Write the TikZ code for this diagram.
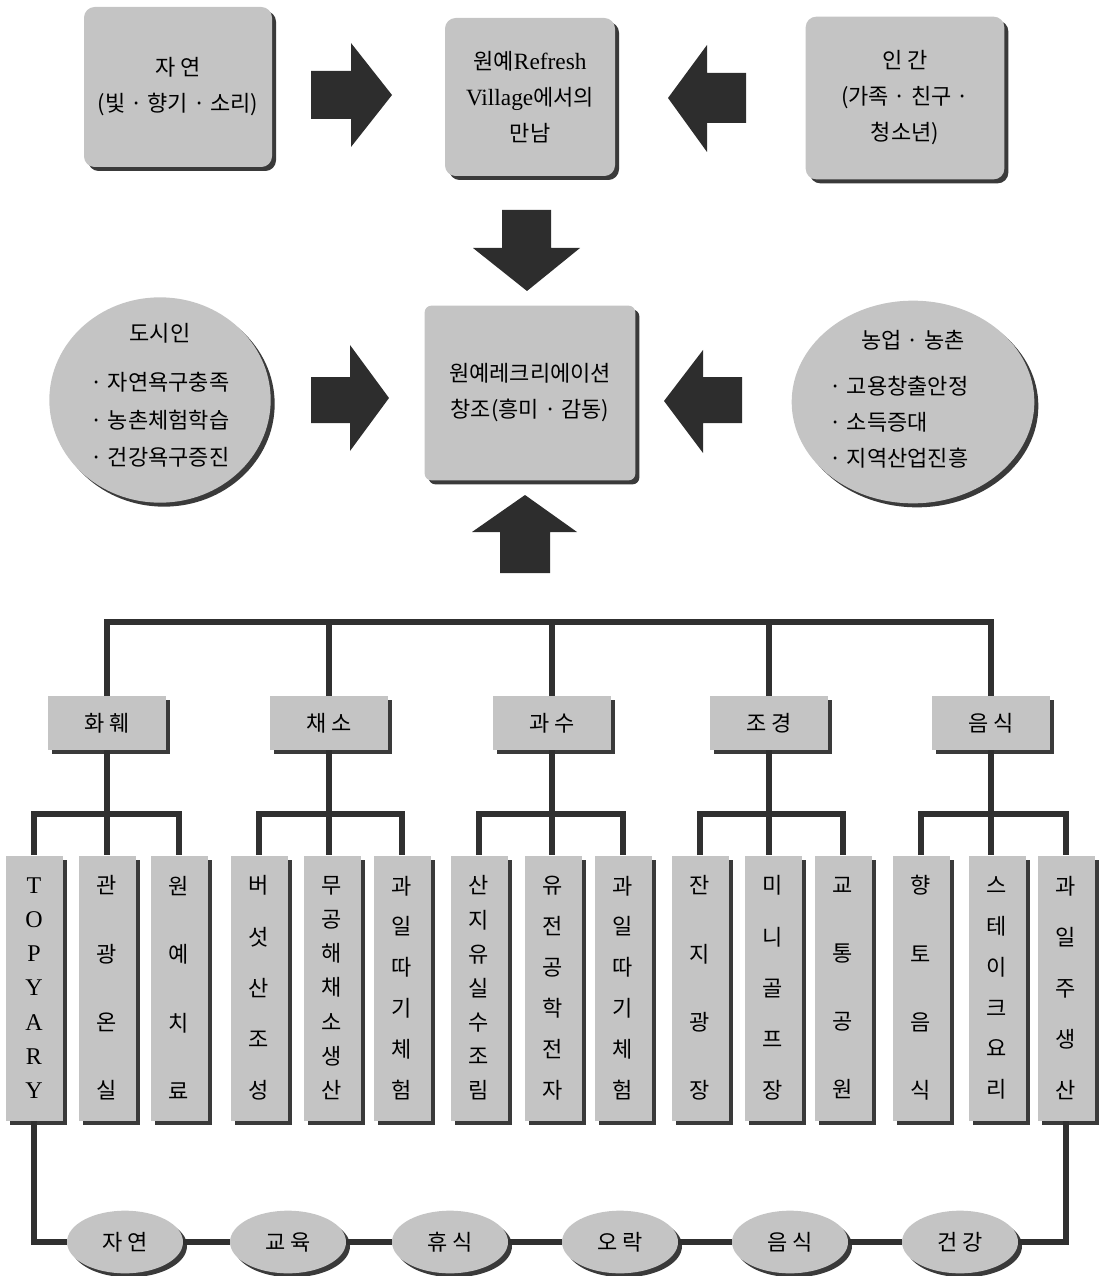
\documentclass[tikz,border=0pt]{standalone}
\usepackage{fontspec}
\setmainfont{Noto Sans CJK KR}
\newfontfamily\latinfont{Liberation Serif}
\usepackage{tikz}
\usetikzlibrary{shapes.geometric,shadows}

\definecolor{boxgray}{RGB}{196,196,196}
\definecolor{shadowgray}{RGB}{58,58,58}
\definecolor{arrowgray}{RGB}{45,45,45}
\definecolor{linegray}{RGB}{48,48,48}

\tikzset{
  shade box/.style={fill=boxgray, drop shadow={shadow xshift=3pt, shadow yshift=-3pt, fill=shadowgray, opacity=1}},
  topbox/.style={shade box, rounded corners=8pt, align=center, inner sep=0pt, font=\fontsize{16.5}{27}\selectfont},
  oval/.style={shade box, ellipse, inner sep=0pt},
  catbox/.style={shade box, minimum width=88.5pt, minimum height=40.5pt, inner sep=0pt, font=\fontsize{16.5}{18}\selectfont},
  leaf/.style={shade box, minimum width=42.75pt, minimum height=198.75pt, inner sep=0pt, align=center},
  v4/.style={font=\fontsize{16.5}{51.2}\selectfont},
  v5/.style={font=\fontsize{16.5}{38.4}\selectfont},
  v6/.style={font=\fontsize{16.5}{30.7}\selectfont},
  v7/.style={font=\fontsize{16.5}{25.6}\selectfont},
  tree/.style={draw=linegray, line width=3.8pt},
  bigarrow/.style={fill=arrowgray}
}

\begin{document}
\begin{tikzpicture}[x=0.75pt,y=0.75pt,yscale=-1,xscale=1]
\useasboundingbox (0,0) rectangle (1108,1276);

% Top row
\node[topbox, minimum width=141pt, minimum height=120pt] (nature) at (178,87) {자 연\\(빛 · 향기 · 소리)};
\node[topbox, minimum width=127.5pt, minimum height=118.5pt] (meet) at (530,97) {원예{\latinfont\fontsize{17.5}{27}\selectfont Refresh}\\{\latinfont\fontsize{17.5}{27}\selectfont Village}에서의\\만남};
\node[topbox, minimum width=149pt, minimum height=122pt] (human) at (905,98) {인 간\\(가족 · 친구 ·\\청소년)};

% Middle row
\node[oval, minimum width=166pt, minimum height=154pt] (city) at (160,400) {};
\node[font=\fontsize{16.5}{18}\selectfont] (city-title) at (160,333) {도시인};
\node[align=left, font=\fontsize{16.5}{28}\selectfont] (city-list) at (160,420) {· 자연욕구충족\\· 농촌체험학습\\· 건강욕구증진};
\node[topbox, rounded corners=5pt, minimum width=158pt, minimum height=131pt] (recre) at (530,393) {원예레크리에이션\\창조(흥미 · 감동)};
\node[oval, minimum width=182pt, minimum height=152pt] (farm) at (913,402) {};
\node[font=\fontsize{16.5}{18}\selectfont] (farm-title) at (913,340) {농업 · 농촌};
\node[align=left, font=\fontsize{16.5}{27}\selectfont] (farm-list) at (899,422) {· 고용창출안정\\· 소득증대\\· 지역산업진흥};

%Block Arrows
\fill[bigarrow] (311,71) -- (351,71) -- (351,43) -- (392,95) -- (351,147) -- (351,119) -- (311,119) -- cycle;
\fill[bigarrow] (746,73) -- (707,73) -- (707,45) -- (668,98) -- (707,152) -- (707,123) -- (746,123) -- cycle;
\fill[bigarrow] (502,210) -- (551,210) -- (551,248) -- (580,248) -- (527,291) -- (473,248) -- (502,248) -- cycle;
\fill[bigarrow] (311,377) -- (350,377) -- (350,345) -- (389,398) -- (350,451) -- (350,423) -- (311,423) -- cycle;
\fill[bigarrow] (742,377) -- (703,377) -- (703,350) -- (664,401) -- (703,453) -- (703,423) -- (742,423) -- cycle;
\fill[bigarrow] (500,573) -- (500,532) -- (472,532) -- (525,495) -- (577,532) -- (550,532) -- (550,573) -- cycle;

% Categories
\node[catbox] (hwa) at (107,723) {화 훼};
\node[catbox] (chae) at (329,723) {채 소};
\node[catbox] (gwa) at (552,723) {과 수};
\node[catbox] (jo) at (769,723) {조 경};
\node[catbox] (eum) at (991,723) {음 식};

% Leaves
\node[leaf, font=\latinfont\fontsize{18}{25.6}\selectfont] (l1) at (34,988) {T\\O\\P\\Y\\A\\R\\Y};
\node[leaf, v4] (l2) at (107,988) {관\\광\\온\\실};
\node[leaf, v4] (l3) at (179,988) {원\\예\\치\\료};
\node[leaf, v5] (l4) at (259,988) {버\\섯\\산\\조\\성};
\node[leaf, v7] (l5) at (332,988) {무\\공\\해\\채\\소\\생\\산};
\node[leaf, v6] (l6) at (402,988) {과\\일\\따\\기\\체\\험};
\node[leaf, v7] (l7) at (479,988) {산\\지\\유\\실\\수\\조\\림};
\node[leaf, v6] (l8) at (553,988) {유\\전\\공\\학\\전\\자};
\node[leaf, v6] (l9) at (623,988) {과\\일\\따\\기\\체\\험};
\node[leaf, v4] (l10) at (700,988) {잔\\지\\광\\장};
\node[leaf, v5] (l11) at (773,988) {미\\니\\골\\프\\장};
\node[leaf, v4] (l12) at (843,988) {교\\통\\공\\원};
\node[leaf, v4] (l13) at (921,988) {향\\토\\음\\식};
\node[leaf, v6] (l14) at (997,988) {스\\테\\이\\크\\요\\리};
\node[leaf, v5] (l15) at (1066,988) {과\\일\\주\\생\\산};

% Bottom values
\node[oval, minimum width=87pt, minimum height=47pt, font=\fontsize{16.5}{18}\selectfont] (e1) at (125,1242) {자 연};
\node[oval, minimum width=87pt, minimum height=47pt, font=\fontsize{16.5}{18}\selectfont] (e2) at (288,1242) {교 육};
\node[oval, minimum width=87pt, minimum height=47pt, font=\fontsize{16.5}{18}\selectfont] (e3) at (450,1242) {휴 식};
\node[oval, minimum width=87pt, minimum height=47pt, font=\fontsize{16.5}{18}\selectfont] (e4) at (620,1242) {오 락};
\node[oval, minimum width=87pt, minimum height=47pt, font=\fontsize{16.5}{18}\selectfont] (e5) at (790,1242) {음 식};
\node[oval, minimum width=87pt, minimum height=47pt, font=\fontsize{16.5}{18}\selectfont] (e6) at (960,1242) {건 강};

%Straight Lines
\coordinate (bar) at (550,622);
\coordinate (sub) at (550,814);
\draw[tree] (hwa.north) |- (bar) -| (eum.north);
\draw[tree] (chae.north) -- (chae.north |- bar);
\draw[tree] (gwa.north) -- (gwa.north |- bar);
\draw[tree] (jo.north) -- (jo.north |- bar);

\draw[tree] (l1.north) -- (l1.north |- sub) -| (l3.north);
\draw[tree] (hwa.south) -- (hwa.south |- l2.north);
\draw[tree] (l4.north) -- (l4.north |- sub) -| (l6.north);
\draw[tree] (chae.south) -- (chae.south |- l5.north);
\draw[tree] (l7.north) -- (l7.north |- sub) -| (l9.north);
\draw[tree] (gwa.south) -- (gwa.south |- l8.north);
\draw[tree] (l10.north) -- (l10.north |- sub) -| (l12.north);
\draw[tree] (jo.south) -- (jo.south |- l11.north);
\draw[tree] (l13.north) -- (l13.north |- sub) -| (l15.north);
\draw[tree] (eum.south) -- (eum.south |- l14.north);

\draw[tree] (l1.south) |- (e1.west);
\draw[tree] (e1.east) -- (e2.west);
\draw[tree] (e2.east) -- (e3.west);
\draw[tree] (e3.east) -- (e4.west);
\draw[tree] (e4.east) -- (e5.west);
\draw[tree] (e5.east) -- (e6.west);
\draw[tree] (e6.east) -| (l15.south);

\end{tikzpicture}
\end{document}
